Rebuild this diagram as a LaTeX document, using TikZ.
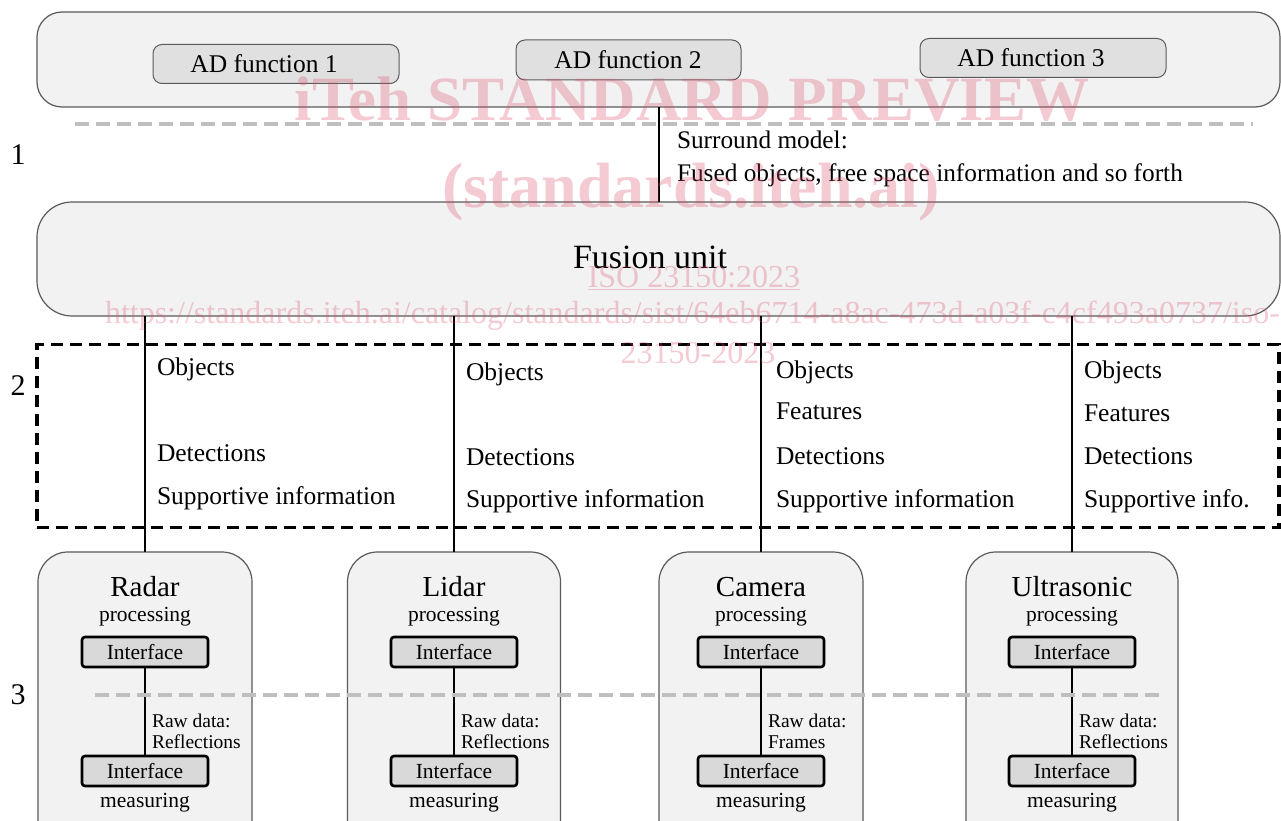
\documentclass[tikz,border=0pt]{standalone}
\usepackage{fontspec}
\usepackage{graphicx}
\setmainfont{Liberation Serif}
\usetikzlibrary{calc}
\definecolor{boxfill}{RGB}{242,242,242}
\definecolor{adfill}{RGB}{224,224,224}
\definecolor{ifill}{RGB}{217,217,217}
\definecolor{dashgray}{RGB}{191,191,191}
\definecolor{edge}{RGB}{90,90,90}
\definecolor{wmcol}{RGB}{220,80,110}
\tikzset{
  bigbox/.style={draw=edge, line width=1.2pt, fill=boxfill},
  adbox/.style={draw=edge, line width=1pt, fill=adfill, rounded corners=9pt, minimum width=246pt, minimum height=39pt},
  adtext/.style={font=\rmfamily\fontsize{25.5}{30}\selectfont},
  sensorbox/.style={draw=edge, line width=1.2pt, fill=boxfill, rounded corners=30pt, minimum height=300pt},
  ifbox/.style={draw=black, line width=2.6pt, fill=ifill, rounded corners=3pt, minimum width=126pt, minimum height=30pt},
  iftext/.style={font=\rmfamily\fontsize{21.5}{26}\selectfont},
  link/.style={draw=black, line width=2pt},
  graydash/.style={draw=dashgray, line width=4.5pt, dash pattern=on 14pt off 7pt},
  layerbox/.style={draw=black, line width=3.2pt, dash pattern=on 12pt off 7pt},
  coltext/.style={anchor=base west, font=\rmfamily\fontsize{25.5}{30}\selectfont},
  smtext/.style={anchor=base west, font=\rmfamily\fontsize{25.3}{30}\selectfont},
  sensortitle/.style={anchor=base, font=\rmfamily\fontsize{29}{34}\selectfont},
  subtext/.style={anchor=base, font=\rmfamily\fontsize{21.5}{26}\selectfont},
  rawtext/.style={anchor=base west, font=\rmfamily\fontsize{19.5}{23}\selectfont},
  layernum/.style={font=\rmfamily\fontsize{30}{36}\selectfont},
  wmark/.style={text=wmcol, opacity=0.3},
}
\begin{document}
\begin{tikzpicture}[x=1pt,y=-1pt, every node/.style={inner sep=0pt, outer sep=0pt}]
\clip (0,0) rectangle (1281,821);
\fill[white] (0,0) rectangle (1281,821);

% layer 1
\node[bigbox, rounded corners=25pt, minimum width=1243pt, minimum height=95pt] (top) at (658.5,59.5) {};
\node[adbox] (ad1) at (276,64) {};
\node[adbox, minimum width=225pt, minimum height=40pt] (ad2) at (628.5,60) {};
\node[adbox] (ad3) at (1043,58) {};
\node[adtext, anchor=base] (ad1t) at (264,73) {AD function 1};
\node[adtext, anchor=base] (ad2t) at (628,69) {AD function 2};
\node[adtext, anchor=base] (ad3t) at (1031,67) {AD function 3};
\draw[graydash] (75,124) -- (1253,124);
\node[layernum] (n1) at (18,155) {1};

\node[bigbox, rounded corners=35pt, minimum width=1243pt, minimum height=114pt] (fusion) at (658.5,259) {};
\node[anchor=base, font=\rmfamily\fontsize{34}{40}\selectfont] (fusiont) at (650,268) {Fusion unit};
\coordinate (c1) at (659,107);
\draw[link] (c1) -- (c1 |- fusion.north);
\node[smtext] (sm1) at (677,149) {Surround model:};
\node[smtext] (sm2) at (677,182) {Fused objects, free space information and so forth};

% layer 2
\node[layerbox, minimum width=1242pt, minimum height=183pt] (layer2) at (658,436) {};
\node[layernum] (n2) at (18,386) {2};

\node[coltext] (r1) at (157,375) {Objects};
\node[coltext] (r2) at (157,461) {Detections};
\node[coltext] (r3) at (157,504) {Supportive information};
\node[coltext] (l1) at (466,380) {Objects};
\node[coltext] (l2) at (466,465) {Detections};
\node[coltext] (l3) at (466,507) {Supportive information};
\node[coltext] (k1) at (776,378) {Objects};
\node[coltext] (k2) at (776,419) {Features};
\node[coltext] (k3) at (776,464) {Detections};
\node[coltext] (k4) at (776,507) {Supportive information};
\node[coltext] (u1) at (1084,378) {Objects};
\node[coltext] (u2) at (1084,421) {Features};
\node[coltext] (u3) at (1084,464) {Detections};
\node[coltext] (u4) at (1084,507) {Supportive info.};

% layer 3
\node[layernum] (n3) at (18,695) {3};
\foreach \n/\cx/\w/\t/\r in {radar/145/214/Radar/Reflections, lidar/454/213/Lidar/Reflections, camera/761/204/Camera/Frames, ultra/1072/212/Ultrasonic/Reflections} {
  \node[sensorbox, minimum width=\w pt] (\n) at (\cx,702) {};
  \node[sensortitle] (\n-t) at (\cx,596) {\t};
  \node[subtext] (\n-p) at (\cx,621) {processing};
  \node[ifbox] (\n-i1) at (\cx,652) {};
  \node[ifbox] (\n-i2) at (\cx,771) {};
  \node[iftext, anchor=base] (\n-i1t) at (\cx,659) {Interface};
  \node[iftext, anchor=base] (\n-i2t) at (\cx,778) {Interface};
  \node[subtext] (\n-m) at (\cx,807) {measuring};
  \node[rawtext] (\n-r1) at (\cx+7,727) {Raw data:};
  \node[rawtext] (\n-r2) at (\cx+7,748) {\r};
  \draw[link] (\n-i1.south) -- (\n-i2.north);
  \draw[link] (\n.north) -- (\n.north |- fusion.south);
}
\draw[graydash] (95,695) -- (1160,695);

% watermark
\node[wmark, anchor=base, font=\rmfamily\fontsize{63}{70}\selectfont\bfseries] (wm1) at (692,121) {iTeh STANDARD PREVIEW};
\node[wmark, anchor=base, font=\rmfamily\fontsize{64}{70}\selectfont\bfseries] (wm2) at (691,207) {(standards.iteh.ai)};
\node[wmark, anchor=base, font=\rmfamily\fontsize{32}{38}\selectfont] (wm3) at (694,287) {\underline{ISO 23150:2023}};
\node[wmark, anchor=base west, font=\rmfamily\fontsize{32}{38}\selectfont] (wm4) at (105,323) {https://standards.iteh.ai/catalog/standards/sist/64eb6714-a8ac-473d-a03f-c4cf493a0737/iso-};
\node[wmark, anchor=base, font=\rmfamily\fontsize{32}{38}\selectfont] (wm5) at (698,363) {23150-2023};
\end{tikzpicture}
\end{document}
